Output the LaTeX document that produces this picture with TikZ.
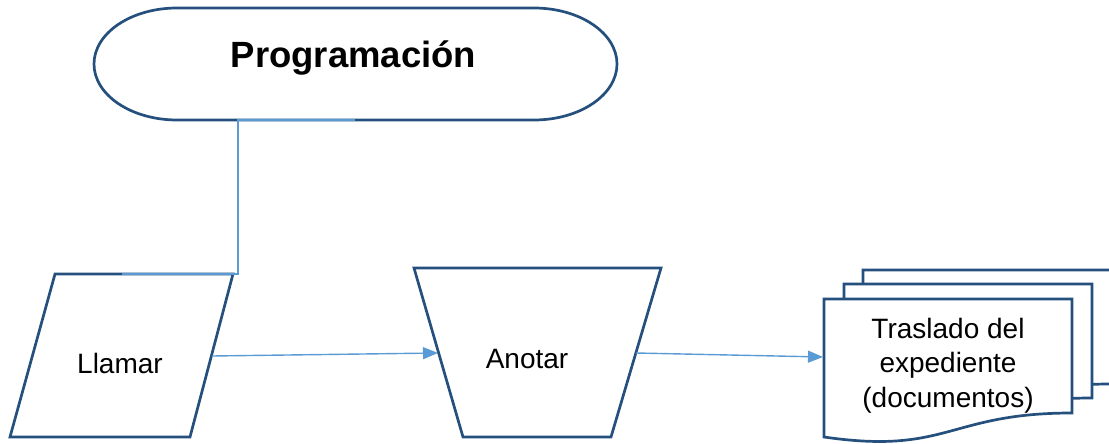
\documentclass[tikz,border=0pt]{standalone}
\usepackage{fontspec}
\setmainfont{Liberation Sans}
\usetikzlibrary{arrows.meta}
\definecolor{shapeblue}{RGB}{37,80,125}
\definecolor{linkblue}{RGB}{91,155,213}
\tikzset{
  shapeline/.style={draw=shapeblue, line width=2.7pt, fill=white, line join=miter},
  linkline/.style={draw=linkblue, line width=1.4pt},
  arrowline/.style={linkline, -{Triangle[length=15pt,width=12pt]}},
  labeltext/.style={font=\fontsize{28}{34.5}\selectfont, align=center, inner sep=0pt, text=black},
  titletext/.style={font=\fontsize{36.5}{40}\selectfont\bfseries, inner sep=0pt, text=black}
}
\begin{document}
\begin{tikzpicture}[x=1pt,y=-1pt]
\useasboundingbox (0,0) rectangle (1109,444);
\clip (0,0) rectangle (1109,444);
% terminator
\draw[shapeline] (177,8) -- (534,8)
  arc[start angle=-90,end angle=90,x radius=83,y radius=56]
  -- (177,120)
  arc[start angle=90,end angle=270,x radius=83,y radius=56] -- cycle;
\node[titletext, anchor=base] (prog) at (353.5,67) {Programación};
% parallelogram
\draw[shapeline] (55,274) -- (233,274) -- (190,437) -- (10,437) -- cycle;
\node[labeltext, anchor=base] (llamar) at (120,373) {Llamar};
% trapezoid
\draw[shapeline] (414,268) -- (661,268) -- (611,437) -- (463,437) -- cycle;
\node[labeltext, anchor=base] (anotar) at (527,368) {Anotar};
% multi-document
\foreach \dx/\dy in {39/-29, 20/-15, 0/0} {
  \draw[shapeline, shift={(\dx,\dy)}] (824,299) -- (1072,299) -- (1072,413)
    .. controls (948,413) and (948,455) .. (824,437) -- cycle;
}
\node[labeltext, anchor=base] (doc) at (948,407) {Traslado del\\expediente\\(documentos)};
% connection points
\coordinate (progbot) at (355,120);
\coordinate (bend) at (238,274);
\coordinate (llamarn) at (122,274);
\coordinate (llamare) at (212,356);
\coordinate (anotarw) at (438,353);
\coordinate (anotare) at (636,353);
\coordinate (docw) at (823,357);
% connectors
\draw[linkline] (progbot) -| (bend) -- (llamarn);
\draw[arrowline] (llamare) -- (anotarw);
\draw[arrowline] (anotare) -- (docw);
\end{tikzpicture}
\end{document}
